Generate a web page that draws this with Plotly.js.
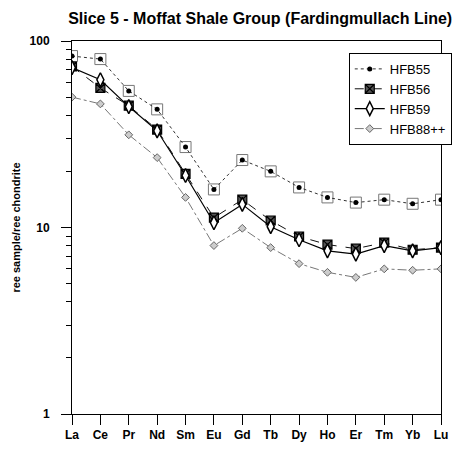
<!DOCTYPE html>
<html><head><meta charset="utf-8">
<script src="https://cdn.plot.ly/plotly-3.0.1.min.js"></script>
<style>html,body{margin:0;padding:0;background:#fff}#chart{width:461px;height:457px}</style>
</head><body><div id="chart"></div>
<script>
var categories = ['La','Ce','Pr','Nd','Sm','Eu','Gd','Tb','Dy','Ho','Er','Tm','Yb','Lu'];
var HFB55 = [83, 80, 54, 43, 27, 16, 23, 20, 16.4, 14.5, 13.6, 14.1, 13.4, 14.1];
var HFB56 = [73, 56, 45, 33.5, 19.4, 11.3, 14.1, 10.9, 8.95, 8.1, 7.7, 8.3, 7.6, 7.8];
var HFB59 = [72, 62, 44.5, 33, 19, 10.6, 13.3, 10.1, 8.6, 7.5, 7.2, 8.0, 7.5, 7.8];
var HFB88 = [50, 46, 31.4, 23.7, 14.5, 8.0, 9.9, 7.8, 6.4, 5.75, 5.4, 6.0, 5.9, 6.0];
var yTickVals = [1, 10, 100];
var yTickText = ['1', '10', '100'];

var minorVals = [];
for (var d = 1; d <= 10; d *= 10) { for (var k = 2; k <= 9; k++) minorVals.push(k * d); }

var F = 'Liberation Sans, Arial, sans-serif';
var traces = [
  {x: categories, y: HFB55, mode: 'markers', showlegend: false, hoverinfo: 'skip',
   marker: {symbol: 'square-open', size: 11, color: '#777', line: {width: 1, color: '#777'}}},
  {x: categories, y: HFB55, name: 'HFB55', mode: 'lines+markers',
   line: {color: '#333', width: 1, dash: 'dot'},
   marker: {symbol: 'circle', size: 5, color: '#000'}},
  {x: categories, y: HFB56, name: 'HFB56', mode: 'lines+markers',
   line: {color: '#111', width: 1, dash: 'dash'},
   marker: {symbol: 'square-x', size: 9, color: '#555', line: {width: 1.2, color: '#000'}}},
  {x: categories, y: HFB59, name: 'HFB59', mode: 'lines+markers',
   line: {color: '#000', width: 1.2, dash: 'solid'},
   marker: {symbol: 'diamond-tall', size: 10, color: '#fff', line: {width: 1.5, color: '#000'}}},
  {x: categories, y: HFB88, name: 'HFB88++', mode: 'lines+markers',
   line: {color: '#777', width: 1, dash: 'dashdot'},
   marker: {symbol: 'diamond', size: 6, color: '#ccc', line: {width: 1, color: '#666'}}}
];

var layout = {
  width: 461, height: 457,
  margin: {l: 72, r: 9, t: 41, b: 43},
  paper_bgcolor: '#fff', plot_bgcolor: '#fff',
  font: {family: F, color: '#000'},
  title: {text: '<b>Slice 5 - Moffat Shale Group (Fardingmullach Line)</b>',
          font: {size: 16, family: F, color: '#000'}, x: 0.51, xref: 'paper', xanchor: 'center',
          y: 0.96, yref: 'container', yanchor: 'middle'},
  xaxis: {type: 'category', range: [0, 13], showgrid: false, zeroline: false,
          showline: true, linecolor: '#000', linewidth: 1, mirror: true,
          ticks: 'outside', ticklen: 10, tickcolor: '#000',
          tickfont: {size: 12, family: F, weight: 'bold'}},
  yaxis: {type: 'log', range: [0, 2], showgrid: false, zeroline: false,
          showline: true, linecolor: '#000', linewidth: 1, mirror: true,
          tickmode: 'array', tickvals: yTickVals, ticktext: yTickText,
          ticks: 'outside', ticklen: 10, tickcolor: '#000', ticklabelstandoff: 9,
          minor: {ticks: 'outside', ticklen: 5, tickcolor: '#000', tickmode: 'array', tickvals: minorVals, showgrid: false},
          tickfont: {size: 12, family: F, weight: 'bold'},
          title: {text: '<b>ree sample/ree chondrite</b>', font: {size: 11, family: F}, standoff: 6}},
  legend: {x: 0.75, y: 0.968, xanchor: 'left', yanchor: 'top',
           bgcolor: '#fff', bordercolor: '#000', borderwidth: 1,
           font: {size: 13, family: F}, itemwidth: 30, tracegroupgap: 0}
};
Plotly.newPlot('chart', traces, layout, {displayModeBar: false, staticPlot: true});
</script></body></html>
